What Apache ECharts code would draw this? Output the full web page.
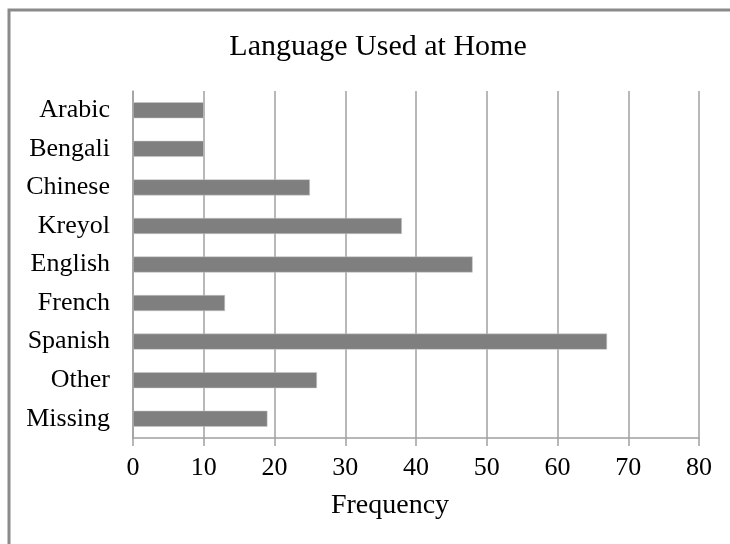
<!DOCTYPE html>
<html>
<head>
<meta charset="utf-8">
<script src="https://cdn.jsdelivr.net/npm/echarts@6/dist/echarts.min.js"></script>
<style>
  html, body { margin: 0; padding: 0; background: #fff; }
  #chart { width: 730px; height: 544px; }
</style>
</head>
<body>
<div id="chart"></div>
<script>
// Languages spoken at home, top to bottom
const languages = ['Arabic', 'Bengali', 'Chinese', 'Kreyol', 'English', 'French', 'Spanish', 'Other', 'Missing'];
const frequency = [10, 10, 25, 38, 48, 13, 67, 26, 19];
const xTicks = [0, 10, 20, 30, 40, 50, 60, 70, 80];

const serif = '"Liberation Serif", "Times New Roman", serif';
const chart = echarts.init(document.getElementById('chart'), null, { renderer: 'canvas' });

chart.setOption({
  animation: false,
  backgroundColor: '#ffffff',
  graphic: [{
    type: 'rect',
    shape: { x: 9, y: 10, width: 800, height: 600 },
    style: { fill: 'none', stroke: '#8a8a8a', lineWidth: 3 },
    silent: true
  }],
  title: {
    text: 'Language Used at Home',
    left: 373,
    textAlign: 'center',
    top: 27,
    textStyle: { fontFamily: serif, fontSize: 30, fontWeight: 'normal', color: '#000' }
  },
  grid: { left: 133, right: 31, top: 91, bottom: 106, containLabel: false },
  xAxis: {
    type: 'value',
    min: xTicks[0],
    max: xTicks[xTicks.length - 1],
    interval: xTicks[1] - xTicks[0],
    name: 'Frequency',
    nameLocation: 'middle',
    nameGap: 54,
    nameTextStyle: { fontFamily: serif, fontSize: 28, color: '#000', padding: [0, 52, 0, 0] },
    axisLine: { show: true, lineStyle: { color: '#a0a0a0', width: 1.5 } },
    axisTick: { show: true, length: 8, lineStyle: { color: '#a0a0a0', width: 1.5 } },
    axisLabel: { fontFamily: serif, fontSize: 26, color: '#000', margin: 17 },
    splitLine: { show: true, lineStyle: { color: '#a0a0a0', width: 1.5 } }
  },
  yAxis: {
    type: 'category',
    data: languages,
    inverse: true,
    axisLine: { show: true, lineStyle: { color: '#a0a0a0', width: 1.5 } },
    axisTick: { show: false },
    axisLabel: { fontFamily: serif, fontSize: 26, color: '#000', margin: 23 },
    splitLine: { show: false }
  },
  series: [{
    type: 'bar',
    data: frequency,
    barWidth: 16,
    itemStyle: { color: '#7f7f7f', borderColor: '#c8c8c8', borderWidth: 0.5 },
    silent: true
  }]
});
</script>
</body>
</html>
